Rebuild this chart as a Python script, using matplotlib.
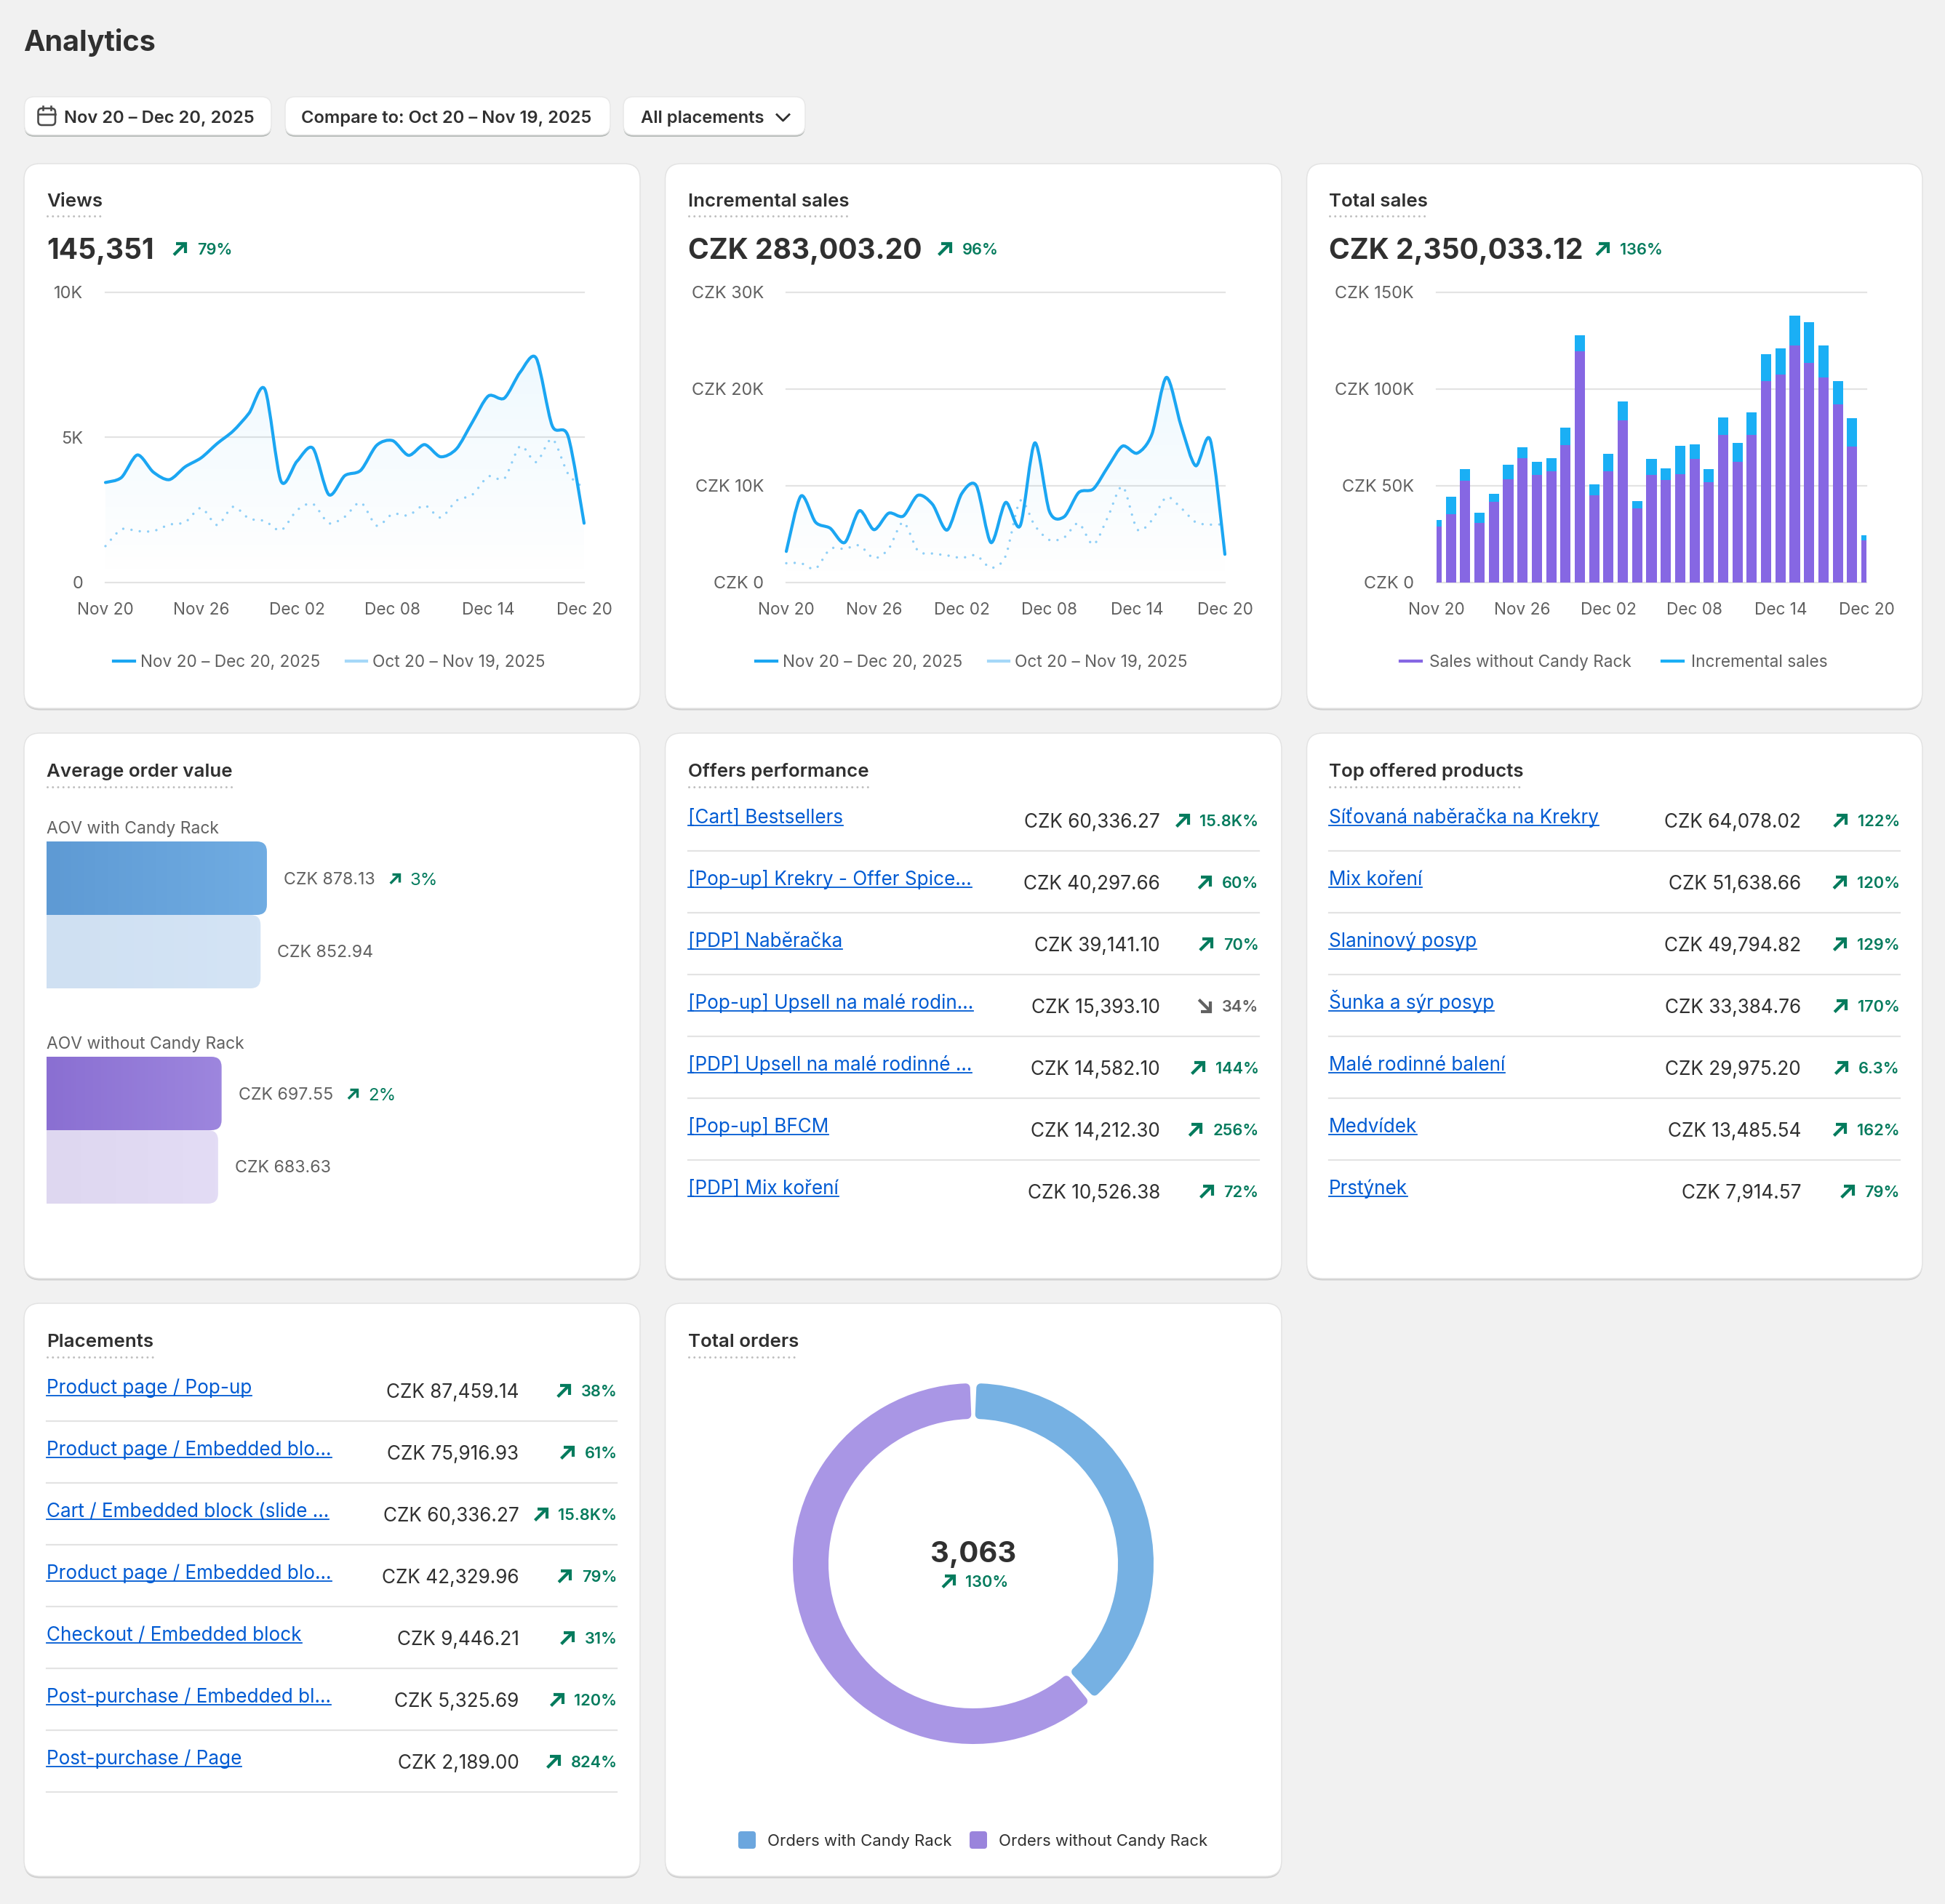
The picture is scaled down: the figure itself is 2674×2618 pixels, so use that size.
import numpy as np
import matplotlib
matplotlib.use("Agg")
import matplotlib.pyplot as plt
from matplotlib.path import Path
from matplotlib.patches import PathPatch, FancyBboxPatch
from matplotlib.lines import Line2D

W, H, DPI = 2674, 2618, 100
FONT = ["Inter", "DejaVu Sans"]
plt.rcParams["font.family"] = FONT

# ---------- data ----------
x_tick_labels = ["Nov 20", "Nov 26", "Dec 02", "Dec 08", "Dec 14", "Dec 20"]
views_current = [3436, 3608, 4384, 3793, 3534, 3978, 4286, 4778, 5209, 5825, 6640, 3485, 4163, 4618, 3017, 3670,
                 3855, 4717, 4877, 4372, 4741, 4323, 4594, 5517, 6416, 6342, 7241, 7720, 5394, 5025, 2032]
views_previous = [1244, 1823, 1761, 1761, 1983, 2069, 2562, 1970, 2599, 2192, 2106, 1786, 2475, 2697, 2032, 2254,
                  2746, 1946, 2352, 2303, 2648, 2229, 2808, 3017, 3645, 3571, 4692, 4138, 4938, 3732, 3239]
views_ticks = [0, 5000, 10000]
views_tick_labels = ["0", "5K", "10K"]

inc_current = [3180, 8900, 6200, 5580, 4100, 7390, 5430, 7130, 6830, 8980, 8050, 5390, 9160, 9970, 4100, 8240,
               5840, 14400, 7310, 6760, 9270, 9640, 11930, 14070, 13340, 15260, 21170, 16180, 12040, 14700, 2880]
inc_previous = [1960, 1960, 1400, 3440, 3440, 3800, 2480, 3440, 6200, 3250, 2960, 2770, 2510, 2770, 1480, 2700,
                8420, 5840, 4360, 4620, 6100, 3880, 6760, 9900, 5470, 6390, 8790, 7680, 6200, 5950, 6000]
inc_ticks = [0, 10000, 20000, 30000]
inc_tick_labels = ["CZK 0", "CZK 10K", "CZK 20K", "CZK 30K"]

sales_without = [28.8, 35.1, 52.3, 30.5, 41.6, 53.2, 64.1, 55.4, 57.3, 70.8, 119.5, 44.9, 57.3, 83.7, 38.1, 55.4,
                 52.8, 56.0, 63.9, 51.7, 76.1, 62.3, 76.1, 103.8, 107.3, 122.5, 113.4, 106.0, 91.8, 70.2, 21.6]
sales_incremental = [3.2, 8.9, 6.1, 5.5, 4.0, 7.4, 5.5, 7.0, 6.8, 9.0, 8.2, 5.5, 9.0, 9.8, 4.0, 8.2,
                     5.9, 14.4, 7.4, 6.7, 9.2, 9.7, 11.7, 14.1, 13.7, 15.1, 21.1, 16.5, 12.0, 14.4, 2.8]
sales_ticks = [0, 50, 100, 150]
sales_tick_labels = ["CZK 0", "CZK 50K", "CZK 100K", "CZK 150K"]

aov_labels = ["AOV with Candy Rack", "AOV without Candy Rack"]
aov_now = [878.13, 697.55]
aov_before = [852.94, 683.63]
aov_change = ["3%", "2%"]

offers_names = ["[Cart] Bestsellers", "[Pop-up] Krekry - Offer Spice...", "[PDP] Naběračka",
                "[Pop-up] Upsell na malé rodin...", "[PDP] Upsell na malé rodinné ...", "[Pop-up] BFCM",
                "[PDP] Mix koření"]
offers_values = ["CZK 60,336.27", "CZK 40,297.66", "CZK 39,141.10", "CZK 15,393.10", "CZK 14,582.10",
                 "CZK 14,212.30", "CZK 10,526.38"]
offers_change = ["15.8K%", "60%", "70%", "-34%", "144%", "256%", "72%"]

top_names = ["Síťovaná naběračka na Krekry", "Mix koření", "Slaninový posyp", "Šunka a sýr posyp",
             "Malé rodinné balení", "Medvídek", "Prstýnek"]
top_values = ["CZK 64,078.02", "CZK 51,638.66", "CZK 49,794.82", "CZK 33,384.76", "CZK 29,975.20",
              "CZK 13,485.54", "CZK 7,914.57"]
top_change = ["122%", "120%", "129%", "170%", "6.3%", "162%", "79%"]

place_names = ["Product page / Pop-up", "Product page / Embedded blo...", "Cart / Embedded block (slide ...",
               "Product page / Embedded blo...", "Checkout / Embedded block", "Post-purchase / Embedded bl...",
               "Post-purchase / Page"]
place_values = ["CZK 87,459.14", "CZK 75,916.93", "CZK 60,336.27", "CZK 42,329.96", "CZK 9,446.21",
                "CZK 5,325.69", "CZK 2,189.00"]
place_change = ["38%", "61%", "15.8K%", "79%", "31%", "120%", "824%"]

orders_split = [1182, 1881]
orders_labels = ["Orders with Candy Rack", "Orders without Candy Rack"]

# ---------- style ----------
BG, INK, GREY, LINK, GREEN = "#F1F1F1", "#303030", "#616161", "#005BD3", "#047B5D"
BLUE, PALE, PURPLE, RULE = "#1BA6F2", "#A5D8F8", "#8667E3", "#E3E3E3"
TITLE_PX, KPI_PX, BODY_PX, LINK_PX, TICK_PX, PCT_PX = 25.9, 39.0, 26.2, 26.1, 22.6, 21.8
LINE_W = 4.2


def pt(p):
    return p * 72 / DPI


fig = plt.figure(figsize=(W / DPI, H / DPI), dpi=DPI, facecolor=BG)
ov = fig.add_axes([0, 0, 1, 1], zorder=0)
ov.set_xlim(0, W)
ov.set_ylim(H, 0)
ov.axis("off")
renderer = fig.canvas.get_renderer()


def T(x, y, s, size=BODY_PX, color=INK, ha="left", weight="normal"):
    return ov.text(x, y + 0.364 * size, s, fontsize=pt(size), color=color, ha=ha, va="baseline", fontweight=weight)


def width(t):
    return t.get_window_extent(renderer).width


def box(x0, y0, x1, y1, r, fc="white", ec=RULE, lw=1.5, shadow="#CFCFCF", off=2.5):
    if shadow:
        ov.add_patch(FancyBboxPatch((x0, y0 + off), x1 - x0, y1 - y0, boxstyle=f"round,pad=0,rounding_size={r}",
                                    fc=shadow, ec="none"))
    ov.add_patch(FancyBboxPatch((x0, y0), x1 - x0, y1 - y0, boxstyle=f"round,pad=0,rounding_size={r}",
                                fc=fc, ec=ec, lw=pt(lw)))


def arrow(x0, yc, s=19, color=GREEN, down=False, lw=4.2):
    y0, y1 = (yc - s / 2 + 2, yc + s / 2 - 1)
    x1 = x0 + s - 2
    x0 = x0 + 1
    if down:
        y0, y1 = yc + s / 2 - 2, yc - s / 2 + 1
    kw = dict(color=color, lw=pt(lw), solid_joinstyle="miter", solid_capstyle="butt")
    ov.plot([x0, x1], [y1, y0], **kw)
    ov.plot([x0 + s * .16, x1, x1], [y0, y0, y1 + (y0 - y1) * .16], **kw)


def card_title(x, y, s):
    t = T(x, y, s, TITLE_PX, INK, weight="semibold")
    w = width(t)
    lw = 3.0
    ov.plot([x + 1, x + w], [y + 22.5, y + 22.5], color="#BDBDBD", lw=pt(lw), dash_capstyle="round",
            linestyle=(0, (0.01, 7.2 / lw)))


def kpi(x, y, value, ax_x, txt_x, change):
    T(x, y, value, KPI_PX, INK, weight="bold")
    arrow(ax_x, y, 19)
    T(txt_x, y, change, PCT_PX, GREEN, weight="semibold")


def smooth(xs, ys, t=0.85):
    xs, ys = np.asarray(xs, float), np.asarray(ys, float)
    v, c = [(xs[0], ys[0])], [Path.MOVETO]
    n = len(xs)
    for i in range(n - 1):
        a, b = max(i - 1, 0), min(i + 2, n - 1)
        c1 = (xs[i] + t * (xs[i + 1] - xs[a]) / 6, ys[i] + t * (ys[i + 1] - ys[a]) / 6)
        c2 = (xs[i + 1] - t * (xs[b] - xs[i]) / 6, ys[i + 1] - t * (ys[b] - ys[i]) / 6)
        v += [c1, c2, (xs[i + 1], ys[i + 1])]
        c += [Path.CURVE4] * 3
    return v, c


def chart_axes(x0, x1, y0=401.5, y1=800.5):
    ax = fig.add_axes([x0 / W, 1 - y1 / H, (x1 - x0) / W, (y1 - y0) / H], zorder=2)
    ax.patch.set_alpha(0)
    for s in ax.spines.values():
        s.set_visible(False)
    ax.set_axisbelow(True)
    ax.yaxis.grid(True, color=RULE, lw=pt(2.2))
    ax.tick_params(length=0, labelcolor=GREY, labelsize=pt(TICK_PX))
    ax.tick_params(axis="y", pad=pt(31), labelsize=pt(23.5))
    ax.tick_params(axis="x", pad=pt(27))
    return ax


def finish(ax, ymax, ticks, labels):
    ax.set_xlim(0, 30)
    ax.set_ylim(0, ymax)
    ax.set_xticks(range(0, 31, 6), x_tick_labels)
    ax.set_yticks(ticks, labels)
    for g in ax.get_ygridlines():
        g.set_clip_on(False)


def legend(ax, handles, labels, cx, cy, tp, cs):
    ax.legend(handles, labels, loc="center", bbox_to_anchor=(cx / W, 1 - cy / H), bbox_transform=fig.transFigure,
              ncol=2, frameon=False, fontsize=pt(TICK_PX), labelcolor=GREY, handlelength=1.28, handletextpad=tp,
              columnspacing=cs, borderpad=0, borderaxespad=0)


def line_chart(x0, x1, cur, prev, ymax, ticks, labels, cx):
    ax = chart_axes(x0, x1)
    days = np.arange(len(cur))
    v, c = smooth(days, cur)
    clip = PathPatch(Path(v + [(days[-1], 0), (0, 0), (0, 0)], c + [Path.LINETO, Path.LINETO, Path.CLOSEPOLY]),
                     transform=ax.transData, fc="none", ec="none")
    grad = np.zeros((256, 1, 4))
    grad[..., :3] = np.array([27, 166, 242]) / 255
    grad[:, 0, 3] = np.linspace(0.07, 0.0, 256)
    im = ax.imshow(grad, extent=[0, 30, 0, max(cur)], aspect="auto", zorder=1.5)
    im.set_clip_path(clip)
    ax.add_patch(PathPatch(Path(*smooth(days, prev)), fc="none", ec="#8FCFF7", lw=pt(3.4), capstyle="round",
                           linestyle=(0, (0.01, 11.5 / 3.4)), zorder=2, clip_on=False))
    ax.add_patch(PathPatch(Path(v, c), fc="none", ec=BLUE, lw=pt(LINE_W), capstyle="round", zorder=3, clip_on=False))
    finish(ax, ymax, ticks, labels)
    h = [Line2D([], [], color=BLUE, lw=pt(LINE_W)), Line2D([], [], color=PALE, lw=pt(LINE_W))]
    legend(ax, h, ["Nov 20 – Dec 20, 2025", "Oct 20 – Nov 19, 2025"], cx, 911, 0.35, 1.56)


def table(x0, x1, value_right, pct_right, names, values, changes, y_link, y_value, first_sep, last_sep=False):
    pitch = 85.0
    for i, (n, v, ch) in enumerate(zip(names, values, changes)):
        t = T(x0, y_link + i * pitch, n, LINK_PX, LINK)
        yu = y_link + i * pitch + 12.5
        ov.plot([x0, x0 + width(t)], [yu, yu], color=LINK, lw=pt(1.8))
        T(value_right, y_value + i * pitch, v, BODY_PX, INK, ha="right")
        down = ch.startswith("-")
        col = GREY if down else GREEN
        p = T(pct_right, y_value + i * pitch, ch.lstrip("-"), PCT_PX, col, ha="right", weight="semibold")
        arrow(pct_right - width(p) - 14 - 19, y_value + i * pitch, 19, col, down)
        if i < len(names) - 1 or last_sep:
            ys = first_sep + i * pitch
            ov.plot([x0, x1], [ys, ys], color=RULE, lw=pt(2.2))


# ---------- page ----------
T(32.5, 56, "Analytics", 39.5, INK, weight="bold")
for (a, b) in [(33.5, 373), (392, 839), (857, 1107)]:
    box(a, 133, b, 185.5, 14, shadow="#B4B9B6", off=2.5, ec="#E8E8E8")
BTN = 23.7
T(88.5, 160, "Nov 20 – Dec 20, 2025", BTN, INK, weight="semibold")
T(414, 160, "Compare to: Oct 20 – Nov 19, 2025", BTN, INK, weight="semibold")
T(881, 160, "All placements", BTN, INK, weight="semibold")
ov.plot([1068, 1076.5, 1085], [157.5, 166, 157.5], color=INK, lw=pt(2.8))
box(52.5, 149, 76, 172, 5, fc="none", ec="#4A4A4A", lw=2.6, shadow=None)
ov.plot([52.5, 76], [156.5, 156.5], color="#4A4A4A", lw=pt(2.6))
for vx in (59, 69.5):
    ov.plot([vx, vx], [146, 151], color="#4A4A4A", lw=pt(2.6))

cols = [(33, 880), (914.5, 1762), (1796.5, 2643)]
rows = [(225, 974), (1008, 1758), (1792, 2580)]
for ci, ri in [(0, 0), (1, 0), (2, 0), (0, 1), (1, 1), (2, 1), (0, 2), (1, 2)]:
    box(cols[ci][0], rows[ri][0], cols[ci][1], rows[ri][1], 22)

# ---------- row 1 ----------
card_title(64, 274.5, "Views")
kpi(64, 342, "145,351", 238, 271, "79%")
line_chart(145, 803, views_current, views_previous, 10000, views_ticks, views_tick_labels, 453)

card_title(946, 274.5, "Incremental sales")
kpi(946, 342, "CZK 283,003.20", 1289.5, 1323, "96%")
line_chart(1081, 1684, inc_current, inc_previous, 30000, inc_ticks, inc_tick_labels, 1336)

card_title(1827, 274.5, "Total sales")
kpi(1827, 342, "CZK 2,350,033.12", 2194, 2227, "136%")
ax = chart_axes(1975, 2566)
days = np.arange(len(sales_without))
ax.bar(days, sales_without, width=0.72, color=PURPLE, zorder=2)
ax.bar(days, sales_incremental, bottom=sales_without, width=0.72, color="#1AAFF5", zorder=2)
finish(ax, 150, sales_ticks, sales_tick_labels)
legend(ax, [Line2D([], [], color=PURPLE, lw=pt(LINE_W)), Line2D([], [], color="#1AAFF5", lw=pt(LINE_W))],
       ["Sales without Candy Rack", "Incremental sales"], 2219, 911, 0.5, 1.85)

# ---------- row 2 ----------
card_title(64, 1059, "Average order value")
aov = fig.add_axes([64 / W, 1 - 1655 / H, 345 / W, 498 / H], zorder=2)
aov.axis("off")
AOV_MAX = 1000.0
PX = 345 / AOV_MAX


def rbar(val, y0, h, c0, c1, r=14):
    rx = r / PX
    path = Path([(0, y0), (val - rx, y0), (val, y0), (val, y0 + r), (val, y0 + h - r), (val, y0 + h),
                 (val - rx, y0 + h), (0, y0 + h), (0, y0)],
                [Path.MOVETO, Path.LINETO, Path.CURVE3, Path.CURVE3, Path.LINETO, Path.CURVE3, Path.CURVE3,
                 Path.LINETO, Path.CLOSEPOLY])
    clip = PathPatch(path, transform=aov.transData, fc="none", ec="none")
    g = np.zeros((1, 64, 3))
    for k in range(3):
        g[0, :, k] = np.linspace(int(c0[1 + 2 * k:3 + 2 * k], 16), int(c1[1 + 2 * k:3 + 2 * k], 16), 64) / 255
    im = aov.imshow(g, extent=[0, val, y0 + h, y0], aspect="auto", zorder=2)
    im.set_clip_path(clip)


for gi, (y_top, c) in enumerate([(0, ("#5E9AD4", "#70ACE2", "#CFE0F2", "#D4E4F5")),
                                 (296, ("#8A6FD2", "#9D86DE", "#DED7F0", "#E3DCF5"))]):
    rbar(aov_before[gi], y_top + 101, 101, c[2], c[3])
    rbar(aov_now[gi], y_top, 101, c[0], c[1])
    y_px = 1157 + y_top
    T(64, y_px - 19, aov_labels[gi], TICK_PX + 0.3, GREY)
    a = T(64 + aov_now[gi] * PX + 23, y_px + 51, f"CZK {aov_now[gi]:.2f}", 23.2, GREY)
    ax0 = 64 + aov_now[gi] * PX + 23 + width(a) + 20
    arrow(ax0, y_px + 51, 15.5, lw=3.4)
    T(ax0 + 28, y_px + 51, aov_change[gi], 24, GREEN)
    T(64 + aov_before[gi] * PX + 23, y_px + 151, f"CZK {aov_before[gi]:.2f}", 23.2, GREY)
aov.set_xlim(0, AOV_MAX)
aov.set_ylim(498, 0)

card_title(946, 1059, "Offers performance")
table(946, 1731, 1595, 1730.5, offers_names, offers_values, offers_change, 1122.5, 1128, 1170)
card_title(1827, 1059, "Top offered products")
table(1827, 2612, 2476, 2612, top_names, top_values, top_change, 1122.5, 1128, 1170)

# ---------- row 3 ----------
card_title(64, 1843, "Placements")
table(64, 848, 713.5, 848.5, place_names, place_values, place_change, 1906, 1912, 1953.5, last_sep=True)

card_title(946, 1843, "Total orders")
R, RW, STROKE, GAP = 248.0, 49.0, 6.0, 3.5
cx, cy = 1338, 2150
don = fig.add_axes([(cx - R) / W, 1 - (cy + R) / H, 2 * R / W, 2 * R / H], zorder=2)
don.patch.set_alpha(0)
wedges, _ = don.pie(orders_split, startangle=90, counterclock=False, colors=["#76B1E3", "#A996E5"],
                    radius=(R - STROKE) / R, wedgeprops=dict(width=(RW - 2 * STROKE) / R))
inset = np.degrees((STROKE + GAP) / (R - RW / 2))
for w in wedges:
    w.set_theta1(w.theta1 + inset)
    w.set_theta2(w.theta2 - inset)
    w.set_edgecolor(w.get_facecolor())
    w.set_linewidth(pt(2 * STROKE))
    w.set_joinstyle("round")
don.set_xlim(-1, 1)
don.set_ylim(-1, 1)
T(cx, 2133, f"{sum(orders_split):,}", 40, INK, ha="center", weight="bold")
arrow(1295, 2174, 19)
T(1327.5, 2174, "130%", PCT_PX, GREEN, weight="semibold")
for x_sq, x_txt, col, lab in [(1015, 1055, "#6BA6DE", orders_labels[0]), (1333, 1373, "#9A84DC", orders_labels[1])]:
    box(x_sq, 2518, x_sq + 24, 2542, 4, fc=col, ec="none", lw=0, shadow=None)
    T(x_txt, 2530, lab, 22.1, INK)

fig.savefig("out.png", dpi=DPI, facecolor=BG)
